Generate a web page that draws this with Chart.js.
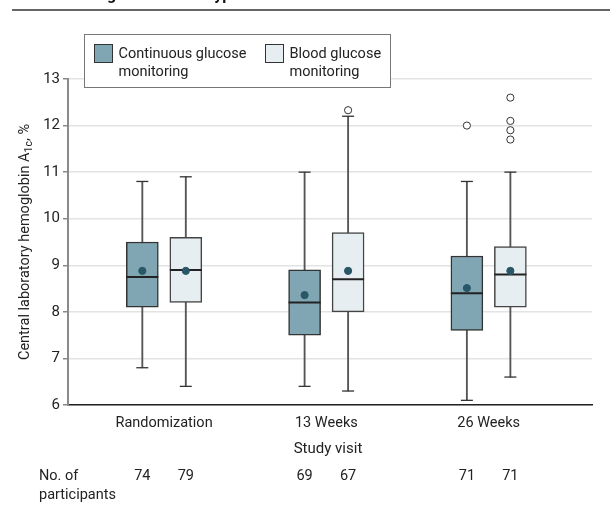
<!DOCTYPE html>
<html>
<head>
<meta charset="utf-8">
<script src="https://cdn.jsdelivr.net/npm/chart.js@4.4.0/dist/chart.umd.min.js"></script>
<style>
  html, body { margin: 0; padding: 0; background: #fff; }
  #wrap { width: 610px; height: 518px; }
</style>
</head>
<body>
<div id="wrap"><canvas id="chart" width="610" height="518"></canvas></div>
<script>
// values
const visits = ['Randomization', '13 Weeks', '26 Weeks'];

const cgmMin = [6.8, 6.4, 6.1];
const cgmQ1 = [8.1, 7.5, 7.6];
const cgmMedian = [8.75, 8.2, 8.4];
const cgmQ3 = [9.5, 8.9, 9.2];
const cgmMax = [10.8, 11.0, 10.8];
const cgmMean = [8.88, 8.36, 8.51];
const cgmOutliers = [[], [], [12.0]];
const cgmN = [74, 69, 71];

const bgmMin = [6.4, 6.3, 6.6];
const bgmQ1 = [8.2, 8.0, 8.1];
const bgmMedian = [8.9, 8.7, 8.8];
const bgmQ3 = [9.6, 9.7, 9.4];
const bgmMax = [10.9, 12.2, 11.0];
const bgmMean = [8.88, 8.88, 8.88];
const bgmOutliers = [[], [12.33], [12.6, 12.1, 11.9, 11.7]];
const bgmN = [79, 67, 71];

const FONT = 'Roboto, "DejaVu Sans", sans-serif';
const CGM_FILL = '#80a6b4';
const BGM_FILL = '#e6eef1';
const OFF = 0.134; // half distance between the two boxes of a visit

const xPos = (i, side) => i + 1 + side * OFF;

function boxes(q1, q3, side) {
  return q1.map((v, i) => ({ x: xPos(i, side), y: [v, q3[i]] }));
}
function whiskers(lo, hi, side) {
  return lo.map((v, i) => ({ x: xPos(i, side), y: [v, hi[i]] }));
}
function points(vals, side) {
  return vals.map((v, i) => ({ x: xPos(i, side), y: v }));
}
function caps(lo, hi, side) {
  return points(lo, side).concat(points(hi, side));
}
function outliers(list, side) {
  const out = [];
  list.forEach((arr, i) => arr.forEach(v => out.push({ x: xPos(i, side), y: v })));
  return out;
}

const extras = {
  id: 'extras',
  afterDraw(chart) {
    const ctx = chart.ctx;
    const x = chart.scales.x;
    ctx.save();

    // cut-off panel title and rule
    ctx.fillStyle = '#111';
    ctx.font = 'bold 16px ' + FONT;
    ctx.textBaseline = 'alphabetic';
    ctx.textAlign = 'left';
    ctx.fillText('B  Hemoglobin A1c in Type 2 Diabetes', 46, -0.5);
    ctx.strokeStyle = '#333';
    ctx.lineWidth = 1.5;
    ctx.beginPath();
    ctx.moveTo(12, 10);
    ctx.lineTo(610, 10);
    ctx.stroke();

    // legend
    ctx.fillStyle = '#fff';
    ctx.fillRect(84, 34, 307, 54);
    ctx.strokeStyle = '#777';
    ctx.lineWidth = 1;
    ctx.strokeRect(84.5, 34.5, 306, 53);
    const items = [
      { fill: CGM_FILL, x: 94.5, lines: ['Continuous glucose', 'monitoring'] },
      { fill: BGM_FILL, x: 265.5, lines: ['Blood glucose', 'monitoring'] }
    ];
    ctx.font = '14.5px ' + FONT;
    ctx.textBaseline = 'middle';
    items.forEach(it => {
      ctx.fillStyle = it.fill;
      ctx.fillRect(it.x, 44.5, 18, 18);
      ctx.strokeStyle = '#333';
      ctx.strokeRect(it.x, 44.5, 18, 18);
      ctx.fillStyle = '#222';
      ctx.fillText(it.lines[0], it.x + 24, 54);
      ctx.fillText(it.lines[1], it.x + 24, 72);
    });

    // y axis title with subscript
    ctx.save();
    ctx.translate(25, 242);
    ctx.rotate(-Math.PI / 2);
    const main = 'Central laboratory hemoglobin A';
    const sub = '1c';
    const tail = ', %';
    ctx.font = '14.5px ' + FONT;
    const w1 = ctx.measureText(main).width;
    const w3 = ctx.measureText(tail).width;
    ctx.font = '10.5px ' + FONT;
    const w2 = ctx.measureText(sub).width;
    let px = -(w1 + w2 + w3) / 2;
    ctx.fillStyle = '#222';
    ctx.textAlign = 'left';
    ctx.textBaseline = 'middle';
    ctx.font = '14.5px ' + FONT;
    ctx.fillText(main, px, 0);
    px += w1;
    ctx.font = '10.5px ' + FONT;
    ctx.fillText(sub, px, 4);
    px += w2;
    ctx.font = '14.5px ' + FONT;
    ctx.fillText(tail, px, 0);
    ctx.restore();

    // x axis title
    ctx.fillStyle = '#222';
    ctx.textAlign = 'center';
    ctx.textBaseline = 'middle';
    ctx.font = '15px ' + FONT;
    ctx.fillText('Study visit', 328, 449);

    // participants row
    ctx.font = '14.5px ' + FONT;
    ctx.textAlign = 'left';
    ctx.fillText('No. of', 39, 476);
    ctx.fillText('participants', 39, 495);
    ctx.textAlign = 'center';
    visits.forEach((v, i) => {
      ctx.fillText(String(cgmN[i]), x.getPixelForValue(xPos(i, -1)), 476);
      ctx.fillText(String(bgmN[i]), x.getPixelForValue(xPos(i, 1)), 476);
    });
    ctx.restore();
  }
};

new Chart(document.getElementById('chart'), {
  type: 'bar',
  data: {
    datasets: [
      { type: 'bar', data: whiskers(cgmMin, cgmMax, -1), backgroundColor: '#555', borderWidth: 0, barThickness: 1.2, grouped: false, order: 6 },
      { type: 'bar', data: whiskers(bgmMin, bgmMax, 1), backgroundColor: '#555', borderWidth: 0, barThickness: 1.2, grouped: false, order: 6 },
      { type: 'bar', label: 'Continuous glucose monitoring', data: boxes(cgmQ1, cgmQ3, -1), backgroundColor: CGM_FILL, borderColor: '#333', borderWidth: 1.5, borderSkipped: false, barThickness: 32, grouped: false, order: 5 },
      { type: 'bar', label: 'Blood glucose monitoring', data: boxes(bgmQ1, bgmQ3, 1), backgroundColor: BGM_FILL, borderColor: '#444', borderWidth: 1.5, borderSkipped: false, barThickness: 32, grouped: false, order: 5 },
      { type: 'scatter', data: caps(cgmMin, cgmMax, -1).concat(caps(bgmMin, bgmMax, 1)), pointStyle: 'line', radius: 6, borderColor: '#333', borderWidth: 1.3, order: 4 },
      { type: 'scatter', data: points(cgmMedian, -1).concat(points(bgmMedian, 1)), pointStyle: 'line', radius: 16, borderColor: '#222', borderWidth: 2, order: 3 },
      { type: 'scatter', data: points(cgmMean, -1).concat(points(bgmMean, 1)), pointStyle: 'circle', radius: 3.6, backgroundColor: '#2a5767', borderColor: '#2a5767', borderWidth: 1, order: 2 },
      { type: 'scatter', data: outliers(cgmOutliers, -1).concat(outliers(bgmOutliers, 1)), pointStyle: 'circle', radius: 3.6, backgroundColor: '#fff', borderColor: '#333', borderWidth: 1, order: 1 }
    ]
  },
  options: {
    responsive: false,
    animation: false,
    events: [],
    layout: { padding: { top: 79, left: 0, right: 0, bottom: 0 } },
    plugins: { legend: { display: false }, tooltip: { enabled: false } },
    scales: {
      x: {
        type: 'linear',
        offset: false,
        min: 0.408,
        max: 3.637,
        afterFit: s => { s.height = 113; },
        afterBuildTicks: s => { s.ticks = visits.map((v, i) => ({ value: i + 1 })); },
        grid: { display: false, drawTicks: false },
        border: { display: true, color: '#222', width: 1.5 },
        ticks: {
          padding: 10,
          color: '#222',
          font: { family: FONT, size: 14.5 },
          callback: v => visits[v - 1]
        }
      },
      y: {
        min: 6,
        max: 13,
        afterFit: s => { s.width = 68; },
        grid: { color: '#e3e3e3', lineWidth: 1.5, tickColor: '#888', tickLength: 5 },
        border: { color: '#8a8a8a', width: 2 },
        ticks: {
          stepSize: 1,
          padding: 3,
          color: '#222',
          font: { family: FONT, size: 15 }
        }
      }
    }
  },
  plugins: [extras]
});
</script>
</body>
</html>
